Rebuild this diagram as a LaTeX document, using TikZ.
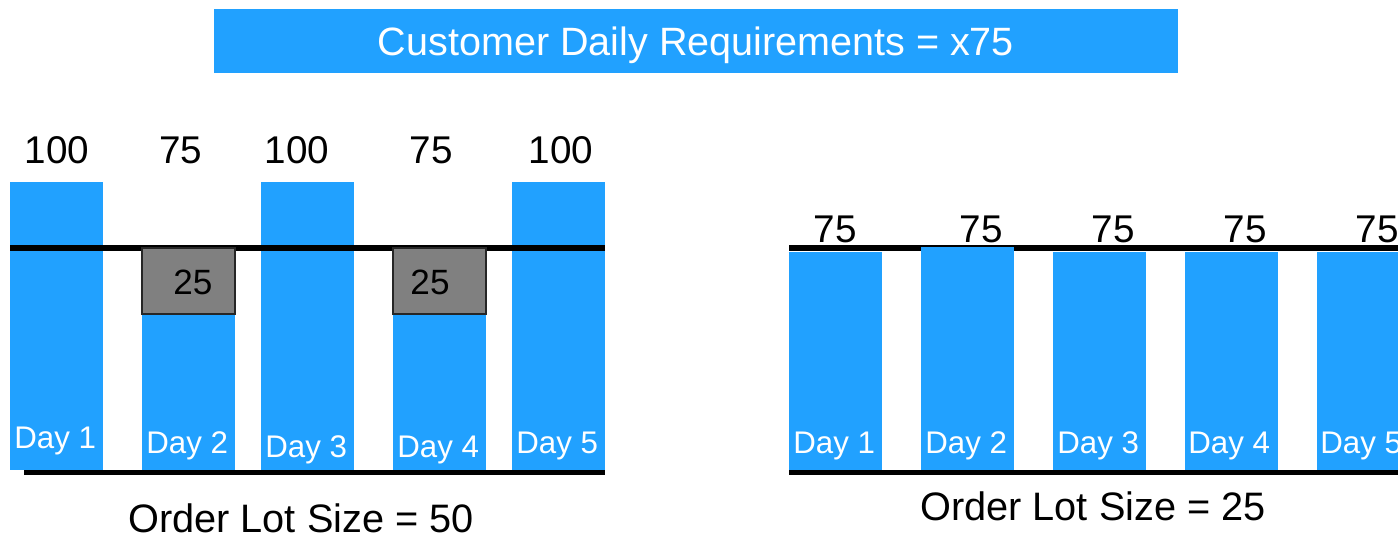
\documentclass[tikz,border=0pt]{standalone}
\usepackage{fontspec}
\setmainfont{Liberation Sans}
\definecolor{barblue}{RGB}{33,161,255}
\definecolor{lotgrey}{RGB}{128,128,128}
\begin{document}
\begin{tikzpicture}[x=0.02cm, y=-0.02cm,
  bar/.style={fill=barblue},
  axis/.style={line width=3.4pt},
  extra/.style={fill=lotgrey, draw=black!85, line width=0.6pt},
  qty/.style={inner sep=0pt, font=\fontsize{22}{26}\selectfont},
  daylbl/.style={inner sep=0pt, anchor=base west, text=white, font=\fontsize{17.8}{21}\selectfont}]
\useasboundingbox (0,0) rectangle (1398,537);
\fill[bar] (214,9) rectangle (1178,73);
\node[qty, anchor=base, text=white, font=\fontsize{22.5}{26}\selectfont] (title) at (696,56) {Customer Daily Requirements = x75};
% lot size 50
\fill[bar] (10,182) rectangle (103,470);
\fill[bar] (142,248) rectangle (235,470);
\fill[bar] (261,182) rectangle (354,470);
\fill[bar] (393,248) rectangle (486,470);
\fill[bar] (512,182) rectangle (605,470);
\draw[axis] (10,248) -- (605,248);
\draw[axis] (24,472.5) -- (605,472.5);
\filldraw[extra] (142,248) rectangle (235,314);
\filldraw[extra] (393,248) rectangle (486,314);
\node[qty] (a1) at (57,150) {100};
\node[qty] (a2) at (181,150) {75};
\node[qty] (a3) at (297,150) {100};
\node[qty] (a4) at (431,150) {75};
\node[qty] (a5) at (561,150) {100};
\node[qty, font=\fontsize{20}{24}\selectfont] (e2) at (193,282) {25};
\node[qty, font=\fontsize{20}{24}\selectfont] (e4) at (430,282) {25};
\node[daylbl] (ad1) at (14,448) {Day 1};
\node[daylbl] (ad2) at (146,453) {Day 2};
\node[daylbl] (ad3) at (265,457) {Day 3};
\node[daylbl] (ad4) at (397,457) {Day 4};
\node[daylbl] (ad5) at (516,453) {Day 5};
\node[qty, font=\fontsize{22.6}{26}\selectfont] (lotA) at (301,518) {Order Lot Size = 50};
% lot size 25
\draw[axis] (789,248) -- (1420,248);
\fill[bar] (789,252) rectangle (882,470);
\fill[bar] (921,247) rectangle (1014,470);
\fill[bar] (1053,252) rectangle (1146,470);
\fill[bar] (1185,252) rectangle (1278,470);
\fill[bar] (1317,252) rectangle (1410,470);
\draw[axis] (789,472.5) -- (1420,472.5);
\node[qty] (b1) at (835,229) {75};
\node[qty] (b2) at (981,229) {75};
\node[qty] (b3) at (1113,229) {75};
\node[qty] (b4) at (1245,229) {75};
\node[qty] (b5) at (1377,229) {75};
\node[daylbl] (bd1) at (793,453) {Day 1};
\node[daylbl] (bd2) at (925,453) {Day 2};
\node[daylbl] (bd3) at (1057,453) {Day 3};
\node[daylbl] (bd4) at (1188,453) {Day 4};
\node[daylbl] (bd5) at (1320,453) {Day 5};
\node[qty, font=\fontsize{22.6}{26}\selectfont] (lotB) at (1093,506) {Order Lot Size = 25};
\end{tikzpicture}
\end{document}
